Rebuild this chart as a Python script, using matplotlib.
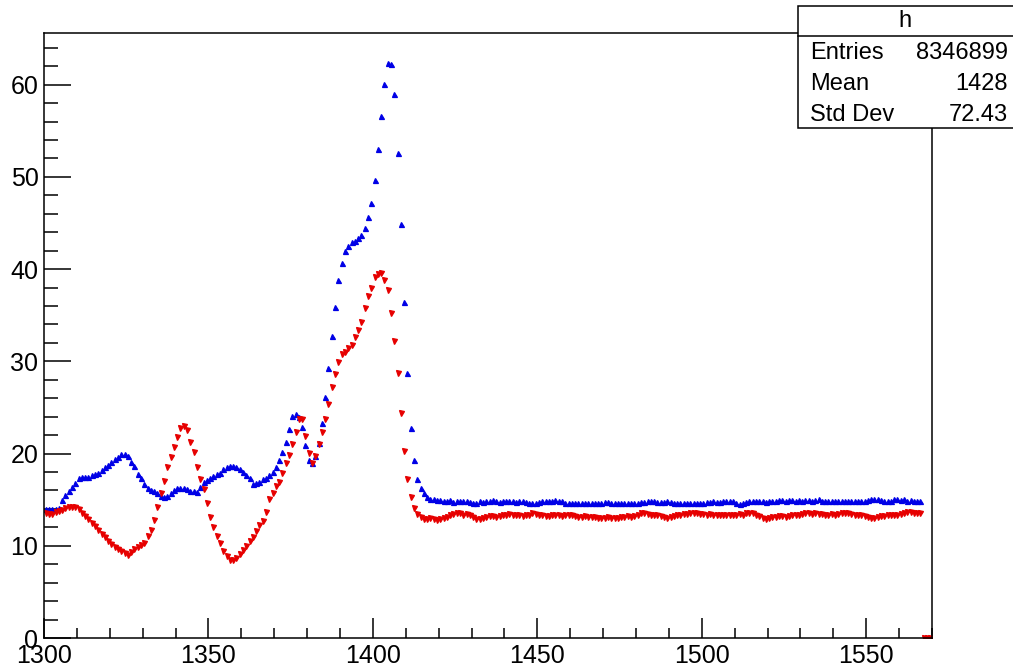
import numpy as np
import matplotlib
matplotlib.use("Agg")
import matplotlib.pyplot as plt
from matplotlib.patches import Rectangle
from matplotlib.ticker import MultipleLocator

plt.rcParams["font.family"] = ["Liberation Sans", "DejaVu Sans"]

# histogram range (bins of width 1)
x_lo, x_hi = 1300, 1570

# blue histogram, bin contents from 1300 upwards
blue_counts = [
    13.95, 13.95, 13.95, 13.95, 14.1, 14.97, 15.5, 15.94, 16.4, 16.85,
    17.4, 17.5, 17.5, 17.5, 17.7, 17.8, 17.93, 18.2, 18.5, 18.75,
    19.1, 19.4, 19.67, 19.96, 19.96, 19.75, 19.1, 18.6, 17.8, 17.3,
    16.7, 16.3, 16.0, 15.9, 15.7, 15.4, 15.3, 15.4, 15.7, 16.0,
    16.3, 16.3, 16.3, 16.2, 15.97, 15.9, 15.8, 16.4, 16.9, 17.1,
    17.3, 17.6, 17.8, 17.93, 18.3, 18.5, 18.65, 18.65, 18.5, 18.3,
    18.05, 17.7, 17.3, 16.7, 16.8, 16.95, 17.2, 17.3, 17.7, 18.05,
    18.5, 19.3, 20.2, 21.3, 22.7, 24.1, 24.3, 24.0, 22.9, 20.9,
    19.3, 18.95, 19.7, 21.1, 23.35, 26.1, 29.3, 32.8, 35.9, 38.8,
    40.7, 42.0, 42.5, 42.9, 43.0, 43.4, 43.7, 44.5, 45.6, 47.2,
    49.7, 53.0, 56.6, 60.1, 62.3, 62.2, 59.0, 52.6, 44.9, 36.4,
    28.7, 22.8, 19.3, 17.2, 16.3, 15.7, 15.26, 15.1, 15.05, 15.0,
    14.97, 14.9, 14.9, 14.97, 14.75, 14.82, 14.9, 14.9, 14.82, 14.75,
    14.64, 14.68, 14.82, 14.75, 14.82, 14.9, 14.97, 14.9, 14.75, 14.82,
    14.9, 14.82, 14.82, 14.75, 14.82, 14.82, 14.75, 14.64, 14.64, 14.68,
    14.75, 14.82, 14.9, 14.82, 14.9, 14.97, 14.9, 14.82, 14.68, 14.68,
    14.68, 14.68, 14.68, 14.64, 14.68, 14.68, 14.64, 14.68, 14.6, 14.68,
    14.75, 14.75, 14.68, 14.68, 14.64, 14.6, 14.64, 14.68, 14.68, 14.64,
    14.68, 14.75, 14.75, 14.82, 14.9, 14.82, 14.75, 14.75, 14.75, 14.82,
    14.75, 14.68, 14.64, 14.68, 14.6, 14.68, 14.64, 14.68, 14.68, 14.64,
    14.68, 14.75, 14.75, 14.82, 14.75, 14.75, 14.82, 14.82, 14.9, 14.82,
    14.68, 14.53, 14.6, 14.75, 14.82, 14.9, 14.82, 14.82, 14.82, 14.75,
    14.82, 14.82, 14.9, 14.97, 14.97, 14.9, 14.97, 14.97, 14.9, 14.97,
    14.9, 14.97, 14.97, 14.9, 14.97, 15.05, 14.9, 14.82, 14.9, 14.82,
    14.9, 14.82, 14.82, 14.9, 14.82, 14.9, 14.9, 14.82, 14.82, 14.9,
    14.97, 15.05, 15.1, 15.05, 14.97, 14.9, 14.82, 14.9, 15.05, 15.1,
    14.97, 15.05, 14.9, 14.97, 14.9, 14.9, 14.9, 0, 0, 0,
]

# red histogram, same binning
red_counts = [
    13.6, 13.45, 13.45, 13.7, 13.8, 13.9, 14.06, 14.17, 14.24, 14.17,
    13.95, 13.6, 13.23, 12.87, 12.5, 12.15, 11.7, 11.28, 10.92, 10.56,
    10.2, 9.83, 9.62, 9.47, 9.26, 9.0, 9.36, 9.62, 9.83, 10.09,
    10.34, 11.06, 11.7, 12.8, 14.17, 15.69, 17.06, 18.58, 19.67, 20.75,
    21.84, 22.74, 23.0, 22.56, 21.3, 20.2, 18.5, 17.2, 16.2, 14.6,
    13.16, 12.07, 11.06, 10.27, 9.44, 8.9, 8.46, 8.46, 8.64, 9.11,
    9.54, 10.0, 10.56, 11.0, 11.6, 12.2, 12.7, 13.7, 15.04, 15.76,
    16.5, 16.95, 17.86, 18.95, 19.85, 21.0, 22.3, 23.8, 23.7, 21.9,
    20.1, 19.0, 19.7, 21.0, 22.3, 23.8, 25.4, 27.2, 28.6, 29.9,
    30.8, 31.0, 31.4, 31.8, 32.6, 33.4, 34.3, 35.8, 37.1, 38.0,
    39.1, 39.5, 39.6, 38.8, 37.7, 35.2, 32.2, 28.7, 24.4, 20.3,
    17.2, 15.3, 14.1, 13.45, 13.1, 12.9, 12.9, 12.97, 12.9, 12.83,
    12.9, 13.05, 13.1, 13.3, 13.4, 13.56, 13.5, 13.38, 13.45, 13.3,
    13.1, 12.9, 12.9, 13.05, 13.15, 13.25, 13.25, 13.15, 13.25, 13.38,
    13.38, 13.45, 13.38, 13.3, 13.3, 13.25, 13.3, 13.38, 13.5, 13.45,
    13.3, 13.3, 13.2, 13.25, 13.3, 13.38, 13.3, 13.25, 13.3, 13.38,
    13.3, 13.2, 13.1, 13.1, 13.2, 13.15, 13.1, 13.15, 13.05, 13.0,
    13.05, 13.1, 13.0, 13.05, 12.97, 13.1, 13.15, 13.2, 13.1, 13.2,
    13.3, 13.56, 13.56, 13.45, 13.38, 13.38, 13.3, 13.2, 13.15, 13.0,
    13.1, 13.2, 13.3, 13.38, 13.45, 13.45, 13.5, 13.56, 13.5, 13.45,
    13.45, 13.38, 13.45, 13.38, 13.3, 13.38, 13.3, 13.3, 13.38, 13.3,
    13.38, 13.45, 13.38, 13.5, 13.56, 13.5, 13.38, 13.2, 13.05, 12.94,
    13.0, 13.1, 13.1, 13.2, 13.2, 13.15, 13.25, 13.3, 13.3, 13.38,
    13.45, 13.56, 13.5, 13.45, 13.5, 13.45, 13.45, 13.38, 13.38, 13.45,
    13.38, 13.45, 13.5, 13.56, 13.5, 13.45, 13.38, 13.3, 13.3, 13.2,
    13.1, 13.0, 13.05, 13.1, 13.2, 13.25, 13.3, 13.38, 13.38, 13.3,
    13.45, 13.6, 13.67, 13.67, 13.6, 13.56, 13.5, 0, 0, 0,
]

# stats box
stats_title = "h"
stats_rows = [("Entries", "8346899"), ("Mean", "1428"), ("Std Dev", "72.43")]

W, H = 1013, 669
fig = plt.figure(figsize=(W / 100, H / 100), dpi=100)
ax = fig.add_axes([44 / W, (H - 638) / H, (932 - 44) / W, (638 - 33) / H])

xb = x_lo + 0.5 + np.arange(len(blue_counts))
xr = x_lo + 0.5 + np.arange(len(red_counts))
ax.plot(xb, blue_counts, ls="none", marker="^", ms=3.6, color="#0000e6", mew=0.9)
ax.plot(xr, red_counts, ls="none", marker="v", ms=3.6, color="#e60000", mew=0.9)

ax.set_xlim(x_lo, x_hi)
ax.set_ylim(0, 65.6)
ax.xaxis.set_major_locator(MultipleLocator(50))
ax.xaxis.set_minor_locator(MultipleLocator(10))
ax.yaxis.set_major_locator(MultipleLocator(10))
ax.yaxis.set_minor_locator(MultipleLocator(2))
ax.tick_params(axis="x", which="major", direction="in", length=14.5, width=1.1,
               labelsize=18, pad=4)
ax.tick_params(axis="x", which="minor", direction="in", length=7, width=1.1)
ax.tick_params(axis="y", which="major", direction="in", length=19.5, width=1.1,
               labelsize=18, pad=4)
ax.tick_params(axis="y", which="minor", direction="in", length=10, width=1.1)
for s in ax.spines.values():
    s.set_linewidth(1.1)

# stats box drawn in figure pixels (its right side runs off the canvas)
def fx(px):
    return px / W

def fy(py):
    return 1 - py / H

bx0, bx1, by0, by1 = 798, 1020, 6, 128
fig.add_artist(Rectangle((fx(bx0), fy(by1)), fx(bx1) - fx(bx0), fy(by0) - fy(by1),
                         transform=fig.transFigure, facecolor="white",
                         edgecolor="black", lw=1.1, zorder=5))
fig.add_artist(plt.Line2D([fx(bx0), fx(bx1)], [fy(36), fy(36)],
                          transform=fig.transFigure, color="black", lw=1.1, zorder=6))
fig.text(fx(905), fy(21), stats_title, ha="center", va="center", fontsize=17, zorder=7)
for i, (k, v) in enumerate(stats_rows):
    yy = fy(53 + i * 31)
    fig.text(fx(810), yy, k, ha="left", va="center", fontsize=17, zorder=7)
    fig.text(fx(1008), yy, v, ha="right", va="center", fontsize=17, zorder=7)

fig.savefig("out.png", dpi=100)
